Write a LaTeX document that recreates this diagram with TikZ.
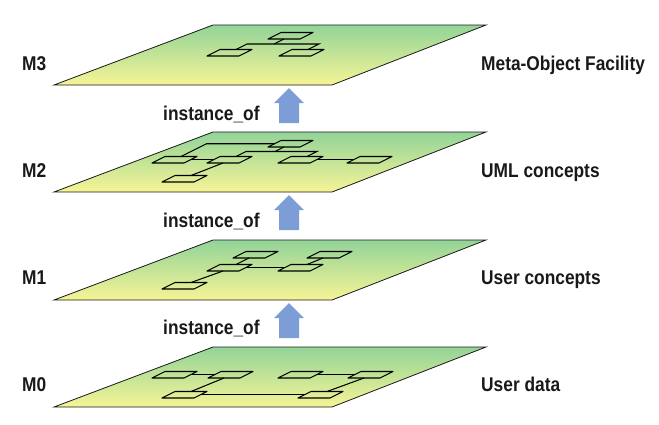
\documentclass[tikz,border=0pt]{standalone}
\usepackage{fontspec}
\setmainfont{Liberation Sans}[FakeStretch=0.87]
\definecolor{planetop}{RGB}{146,212,152}
\definecolor{planebot}{RGB}{246,244,150}
\definecolor{arrowblue}{RGB}{125,157,215}
\definecolor{txt}{RGB}{25,25,25}
\tikzset{
  lvlplane/.style={draw=black!90, line width=0.8bp, top color=planetop, bottom color=planebot},
  slabline/.style={draw=black, line width=1.05bp, line join=round},
  conn/.style={draw=black, line width=1.05bp},
  lvltext/.style={font=\bfseries\fontsize{20}{24}\selectfont, text=txt, inner sep=0pt, anchor=base west},
  arrowfill/.style={fill=arrowblue, draw=none}
}
\newcommand\drawlevel[1]{%
  \draw[lvlplane] (54,#1) -- (332,#1) -- (486,#1-60) -- (213,#1-60) -- cycle;}
\newcommand\slab[3]{%
  \draw[slabline] (#2,#3) -- ++(32,0) -- ++(13,-6.5) -- ++(-32,0) -- cycle;
  \coordinate (#1-b) at (#2+16,#3);
  \coordinate (#1-t) at (#2+29,#3-6.5);
  \coordinate (#1-l) at (#2+6.5,#3-3.25);
  \coordinate (#1-r) at (#2+38.5,#3-3.25);}
\newcommand\uparr[1]{%
  \fill[arrowfill] (279,#1+38) -- (279,#1+18) -- (274,#1+18) -- (289,#1+3)
    -- (304,#1+18) -- (299,#1+18) -- (299,#1+38) -- cycle;}
\begin{document}
\begin{tikzpicture}[x=1bp,y=-1bp]
\useasboundingbox (0,0) rectangle (659,424);
% planes
\drawlevel{85}
\drawlevel{192}
\drawlevel{300}
\drawlevel{407}
% arrows
\uparr{85}
\uparr{192}
\uparr{300}
% M3 diagram
\slab{t3}{268}{39}
\slab{l3}{207}{56}
\slab{r3}{279}{56}
\draw[conn] (l3-t) -- ++(11,-5.5) -- ++(72,0) -- (r3-t);
\draw[conn] (t3-b) -- ++(-10,5);
% M2 diagram
\slab{a2}{152}{163}
\slab{b2}{207}{163}
\slab{c2}{278}{163}
\slab{d2}{347}{163}
\slab{e2}{268}{147}
\slab{f2}{162}{182}
\draw[conn] (a2-r) -- (b2-l);
\draw[conn] (c2-r) -- (d2-l);
\draw[conn] (b2-b) -- (f2-t);
\draw[conn] (a2-t) -- ++(25.5,-12.75) -- (e2-l);
\draw[conn] (b2-t) -- ++(10,-5) -- ++(71,0) -- (c2-t);
\draw[conn] (e2-b) -- ++(-9,4.5);
% M1 diagram
\slab{p1}{162}{289}
\slab{q1}{207}{271}
\slab{r1}{233}{258}
\slab{s1}{278}{271}
\slab{u1}{307}{258}
\draw[conn] (q1-r) -- (s1-l);
\draw[conn] (r1-b) -- (q1-t);
\draw[conn] (u1-b) -- (s1-t);
\draw[conn] (q1-b) -- (p1-t);
% M0 diagram
\slab{a0}{152}{378}
\slab{b0}{208}{378}
\slab{c0}{278}{378}
\slab{d0}{348}{378}
\slab{e0}{162}{398}
\slab{f0}{298}{398}
\draw[conn] (a0-r) -- (b0-l);
\draw[conn] (c0-r) -- (d0-l);
\draw[conn] (b0-b) -- (e0-t);
\draw[conn] (e0-r) -- (f0-l);
\draw[conn] (d0-b) -- (f0-t);
% labels
\node[lvltext] (m3) at (22,70) {M3};
\node[lvltext] (m2) at (22,177) {M2};
\node[lvltext] (m1) at (22,284.5) {M1};
\node[lvltext] (m0) at (22,391.5) {M0};
\node[lvltext] (n3) at (481,70) {Meta-Object Facility};
\node[lvltext] (n2) at (481,177) {UML concepts};
\node[lvltext] (n1) at (481,284.5) {User concepts};
\node[lvltext] (n0) at (481,391.5) {User data};
\node[lvltext] (i3) at (163,120) {instance\_of};
\node[lvltext] (i2) at (163,227.5) {instance\_of};
\node[lvltext] (i1) at (163,334.5) {instance\_of};
\end{tikzpicture}
\end{document}
